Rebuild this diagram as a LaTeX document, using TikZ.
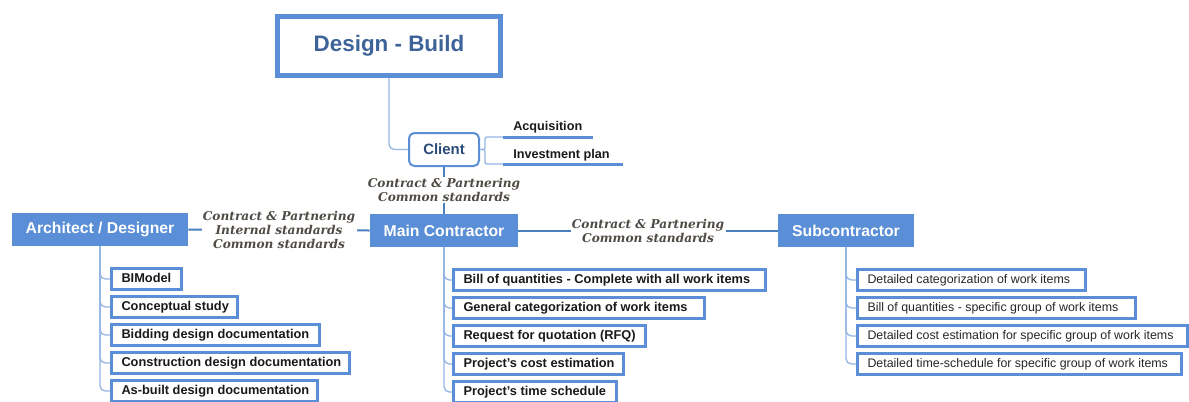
\documentclass[tikz,border=0pt]{standalone}
\usepackage{fontspec}
\setmainfont{Liberation Sans}
\newfontfamily\lblserif{DejaVu Serif}
\definecolor{boxblue}{HTML}{5A8ED6}
\definecolor{linkblue}{HTML}{4A7EBF}
\definecolor{treeblue}{HTML}{94B6E3}
\definecolor{titleblue}{HTML}{3D6399}
\definecolor{clientblue}{HTML}{2A4A7A}
\definecolor{lblgray}{HTML}{4F4A44}
\begin{document}
\begin{tikzpicture}[x=0.75pt,y=-0.75pt,
  title/.style={draw=boxblue, line width=3.75pt, minimum width=167.25pt, minimum height=44.25pt, inner sep=0pt, text=titleblue, font=\fontsize{16.8}{20}\selectfont\bfseries},
  client/.style={draw=boxblue, line width=1.5pt, rounded corners=4pt, minimum width=52.5pt, minimum height=24.75pt, inner sep=0pt, text=clientblue, fill=white, font=\fontsize{11.2}{13}\selectfont\bfseries},
  head/.style={fill=boxblue, text=white, minimum height=24.75pt, inner sep=0pt, font=\fontsize{11.8}{14}\selectfont\bfseries},
  citem/.style={draw=boxblue, line width=2.25pt, anchor=west, inner xsep=7.5pt, inner ysep=0pt, minimum height=15.75pt, text height=7pt, text depth=2pt, text=black!90, font=\fontsize{9.6}{11}\selectfont\bfseries},
  sitem/.style={citem, text=black!85, font=\fontsize{9.3}{11}\selectfont},
  small/.style={inner sep=0pt, text=black!90, font=\fontsize{9.5}{11}\selectfont\bfseries},
  conn/.style={draw=linkblue, line width=1.5pt},
  tree/.style={draw=treeblue, line width=1pt, rounded corners=4pt},
  bracket/.style={draw=treeblue, line width=1pt, rounded corners=1.5pt},
  uline/.style={draw=boxblue, line width=2.25pt},
  lbl/.style={fill=white, align=center, text=lblgray, inner sep=1pt, font=\lblserif\bfseries\itshape\fontsize{9.1}{10.5}\selectfont}
]
\useasboundingbox (0,0) rectangle (1189,401);

% main nodes
\node[title] (db) at (389,46) {Design - Build};
\node[client] (client) at (444,149.5) {Client};
\node[head, minimum width=132pt] (arch) at (100,229.5) {Architect / Designer};
\node[head, minimum width=111pt] (main) at (444,230.5) {Main Contractor};
\node[head, minimum width=102pt] (sub) at (846,230.5) {Subcontractor};

% client items
\node[small, anchor=base west] (acq) at (513,130) {Acquisition};
\node[small, anchor=base west] (inv) at (513,158) {Investment plan};
\coordinate (acqL) at (503,137);
\coordinate (acqR) at (593,137);
\coordinate (invL) at (503,164);
\coordinate (invR) at (623,164);

% architect items
\node[citem] (a1) at (110,279) {\makebox[37.5pt][l]{BIModel}};
\node[citem] (a2) at (110,307) {\makebox[79.5pt][l]{Conceptual study}};
\node[citem] (a3) at (110,335) {\makebox[141pt][l]{Bidding design documentation}};
\node[citem] (a4) at (110,363) {\makebox[163.5pt][l]{Construction design documentation}};
\node[citem] (a5) at (110,391) {\makebox[139.5pt][l]{As-built design documentation}};

% main contractor items
\node[citem] (m1) at (452,280) {\makebox[219pt][l]{Bill of quantities - Complete with all work items}};
\node[citem] (m2) at (452,308) {\makebox[173.25pt][l]{General categorization of work items}};
\node[citem] (m3) at (452,336) {\makebox[129pt][l]{Request for quotation (RFQ)}};
\node[citem] (m4) at (452,364) {\makebox[112.5pt][l]{Project's cost estimation}};
\node[citem] (m5) at (452,392) {\makebox[107.25pt][l]{Project's time schedule}};

% subcontractor items
\node[sitem] (s1) at (856,280) {\makebox[156pt][l]{Detailed categorization of work items}};
\node[sitem] (s2) at (856,308) {\makebox[193.5pt][l]{Bill of quantities - specific group of work items}};
\node[sitem] (s3) at (856,336) {\makebox[232.5pt][l]{Detailed cost estimation for specific group of work items}};
\node[sitem] (s4) at (856,364) {\makebox[228pt][l]{Detailed time-schedule for specific group of work items}};

% connectors
\draw[tree] (db.south) |- (client.west);
\draw[bracket] (client.east) -- ++(5,0) |- (acqL);
\draw[bracket] (client.east) -- ++(5,0) |- (invL);
\draw[uline] (acqL) -- (acqR);
\draw[uline] (invL) -- (invR);

\draw[conn] (client.south) -- (main.north)
  node[lbl, midway] {Contract \& Partnering\\Common standards};
\draw[conn] (arch.east) -- (main.west)
  node[lbl, midway] {Contract \& Partnering\\Internal standards\\Common standards};
\draw[conn] (main.east) -- (sub.west)
  node[lbl, midway] {Contract \& Partnering\\Common standards};

\foreach \c in {a1,a2,a3,a4,a5} \draw[tree] (arch.south) |- (\c.west);
\foreach \c in {m1,m2,m3,m4,m5} \draw[tree] (main.south) |- (\c.west);
\foreach \c in {s1,s2,s3,s4} \draw[tree] (sub.south) |- (\c.west);
\end{tikzpicture}
\end{document}
